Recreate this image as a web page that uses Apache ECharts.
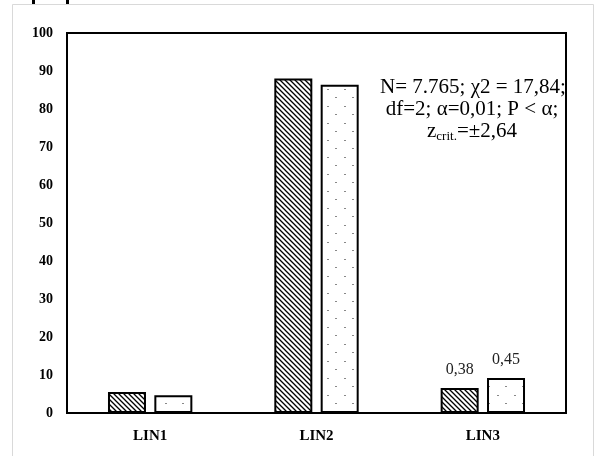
<!DOCTYPE html>
<html><head><meta charset="utf-8">
<script src="https://cdn.jsdelivr.net/npm/echarts@6/dist/echarts.min.js"></script>
<style>html,body{margin:0;padding:0;background:#fff}#c{width:596px;height:456px}</style>
</head><body><div id="c"></div>
<script>
const categories = ['LIN1', 'LIN2', 'LIN3'];
const seriesA = [5.5, 88.0, 6.6];
const seriesB = [4.7, 86.4, 9.2];
const labelsA = ['', '', '0,38'];
const labelsB = ['', '', '0,45'];
const yTicks = { min: 0, max: 100, interval: 10 };
const noteLines = ['N= 7.765; χ2 = 17,84;', 'df=2; α=0,01; P < α;'];

function hatch() {
  const c = document.createElement('canvas');
  c.width = 5; c.height = 5;
  const g = c.getContext('2d');
  g.fillStyle = '#fff'; g.fillRect(0, 0, 5, 5);
  g.strokeStyle = '#000'; g.lineWidth = 1.3;
  g.beginPath();
  g.moveTo(-1, -1); g.lineTo(6, 6);
  g.moveTo(-1, 4); g.lineTo(1, 6);
  g.moveTo(4, -1); g.lineTo(6, 1);
  g.stroke();
  return c;
}
function dots() {
  const c = document.createElement('canvas');
  c.width = 17; c.height = 17;
  const g = c.getContext('2d');
  g.fillStyle = '#fff'; g.fillRect(0, 0, 17, 17);
  g.fillStyle = '#888';
  g.fillRect(4, 4, 2, 1);
  g.fillRect(12, 12, 2, 1);
  return c;
}

const chart = echarts.init(document.getElementById('c'), null, { renderer: 'canvas' });
const serif = '"Liberation Serif", "Times New Roman", serif';
function mk(vals, labs) {
  return vals.map((v, i) => labs[i] ? { value: v, label: { show: true, formatter: labs[i] } } : v);
}
chart.setOption({
  animation: false,
  backgroundColor: '#fff',
  grid: { left: 67, right: 30, top: 33, bottom: 43, show: true, borderColor: '#000', borderWidth: 2, backgroundColor: 'transparent' },
  xAxis: {
    type: 'category', data: categories,
    axisLine: { show: true, lineStyle: { color: '#000', width: 2 } },
    axisTick: { show: false },
    axisLabel: { color: '#000', fontFamily: serif, fontWeight: 'bold', fontSize: 15, margin: 16 }
  },
  yAxis: {
    type: 'value', min: yTicks.min, max: yTicks.max, interval: yTicks.interval,
    axisLine: { show: true, lineStyle: { color: '#000', width: 2 } },
    axisTick: { show: false },
    splitLine: { show: false },
    axisLabel: { color: '#000', fontFamily: serif, fontWeight: 'bold', fontSize: 14, margin: 14 }
  },
  series: [
    { type: 'bar', data: mk(seriesA, labelsA), barWidth: 38, barGap: '22%',
      itemStyle: { color: { image: hatch(), repeat: 'repeat' }, borderColor: '#000', borderWidth: 2 },
      label: { show: false, position: 'top', distance: 10, color: '#222', fontFamily: serif, fontSize: 16 } },
    { type: 'bar', data: mk(seriesB, labelsB), barWidth: 38,
      itemStyle: { color: { image: dots(), repeat: 'repeat' }, borderColor: '#000', borderWidth: 2 },
      label: { show: false, position: 'top', distance: 10, color: '#222', fontFamily: serif, fontSize: 16 } }
  ],
  graphic: [
    { type: 'rect', shape: { x: 12.5, y: 4.5, width: 581, height: 470 }, style: { fill: 'none', stroke: '#d9d9d9', lineWidth: 1 }, z: -1 },
    { type: 'rect', shape: { x: 32, y: 0, width: 3, height: 4 }, style: { fill: '#000' } },
    { type: 'rect', shape: { x: 66, y: 0, width: 3, height: 4 }, style: { fill: '#000' } },
    { type: 'text', x: 473, y: 87, style: { text: noteLines[0], font: '21px ' + serif, fill: '#000', align: 'center', verticalAlign: 'middle' } },
    { type: 'text', x: 472, y: 109, style: { text: noteLines[1], font: '21px ' + serif, fill: '#000', align: 'center', verticalAlign: 'middle' } },
    { type: 'text', x: 472, y: 131, style: {
        text: '{a|z}{b|crit.}{a|=±2,64}', align: 'center', verticalAlign: 'middle',
        rich: {
          a: { fontFamily: serif, fontSize: 21, color: '#000' },
          b: { fontFamily: serif, fontSize: 13, color: '#000', padding: [11, 0, 0, 0] }
        } } }
  ]
});
</script></body></html>
